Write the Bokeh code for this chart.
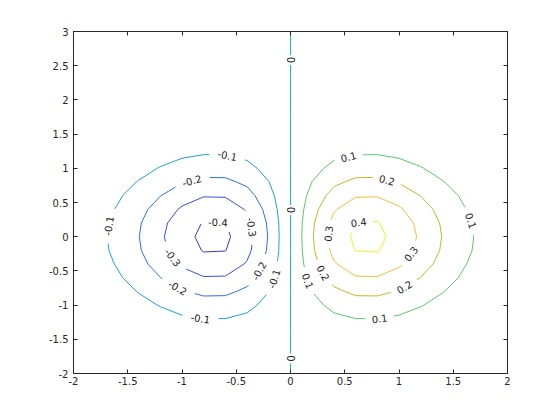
import numpy as np
import contourpy
from bokeh.plotting import figure
from bokeh.models import Range1d, LinearAxis, FixedTicker, CustomJSTickFormatter, ColumnDataSource
from bokeh.core.properties import value
from bokeh.embed import file_html
from bokeh.resources import INLINE

# ---- data -------------------------------------------------------------
# surface z = x * exp(-x^2 - y^2) sampled on the grid -2:0.2:2 x -2:0.2:3
x_grid = np.round(np.arange(-2.0, 2.0001, 0.2), 10)
y_grid = np.round(np.arange(-2.0, 3.0001, 0.2), 10)
levels = [-0.4, -0.3, -0.2, -0.1, 0.0, 0.1, 0.2, 0.3, 0.4]
x_ticks = [-2, -1.5, -1, -0.5, 0, 0.5, 1, 1.5, 2]
y_ticks = [-2, -1.5, -1, -0.5, 0, 0.5, 1, 1.5, 2, 2.5, 3]

# ---- style ------------------------------------------------------------
level_colors = ["#4431c2", "#3a4cee", "#2c6fe6", "#1aa2dc", "#10bfbf",
                "#5cc86a", "#c3b82a", "#f4bf3a", "#f5ee20"]
# approximate spots where the inline labels sit (snapped onto the lines)
label_spots = [
    (-0.1, -0.58, 1.20), (-0.1, -1.68, 0.16), (-0.1, -0.175, -0.60), (-0.1, -0.83, -1.19),
    (-0.2, -0.91, 0.83), (-0.2, -1.04, -0.75), (-0.2, -0.30, -0.49),
    (-0.3, -0.40, 0.13), (-0.3, -1.09, -0.31),
    (-0.4, -0.67, 0.17),
    (0.0, 0.0, 2.585), (0.0, 0.0, 0.39), (0.0, 0.0, -1.78),
    (0.1, 0.535, 1.17), (0.1, 1.64, 0.22), (0.1, 0.14, -0.66), (0.1, 0.82, -1.19),
    (0.2, 0.89, 0.83), (0.2, 0.30, -0.53), (0.2, 1.04, -0.71),
    (0.3, 0.36, 0.04), (0.3, 1.10, -0.24),
    (0.4, 0.63, 0.14),
]

FW, FH = 434, 342
XMIN, XMAX, YMIN, YMAX = -2.0, 2.0, -2.0, 3.0
SX = FW / (XMAX - XMIN)
SY = FH / (YMAX - YMIN)

X, Y = np.meshgrid(x_grid, y_grid)
Z = X * np.exp(-X ** 2 - Y ** 2)
gen = contourpy.contour_generator(x_grid, y_grid, Z, line_type="Separate")

CHAR_W = {"-": 3.61, ".": 3.18}


def text_w(s):
    return sum(CHAR_W.get(c, 6.36) for c in s)


def fmt(v):
    s = f"{v:g}"
    return "0" if s in ("-0", "0") else s


def to_px(pts):
    return np.column_stack([(pts[:, 0] - XMIN) * SX, (pts[:, 1] - YMIN) * SY])


def from_px(pts):
    return np.column_stack([pts[:, 0] / SX + XMIN, pts[:, 1] / SY + YMIN])


def cumlen(P):
    d = np.sqrt((np.diff(P, axis=0) ** 2).sum(axis=1))
    return np.concatenate([[0.0], np.cumsum(d)])


def at_s(P, cum, s):
    s = min(max(s, 0.0), cum[-1])
    return np.array([np.interp(s, cum, P[:, 0]), np.interp(s, cum, P[:, 1])])


def nearest(P, cum, q):
    best = (1e18, 0.0)
    for i in range(len(P) - 1):
        a, b = P[i], P[i + 1]
        ab = b - a
        L2 = float(ab @ ab)
        t = 0.0 if L2 == 0 else max(0.0, min(1.0, float((q - a) @ ab) / L2))
        pt = a + t * ab
        dd = float(((q - pt) ** 2).sum())
        if dd < best[0]:
            best = (dd, cum[i] + t * (cum[i + 1] - cum[i]))
    return best


seg_xs, seg_ys, seg_cols = [], [], []
lab_x, lab_y, lab_t, lab_a = [], [], [], []

for lev, col in zip(levels, level_colors):
    lines = [np.asarray(l, dtype=float) for l in gen.lines(lev)]
    lines = [l for l in lines if len(l) >= 2]
    pls = [to_px(l) for l in lines]
    cums = [cumlen(P) for P in pls]
    cuts = [[] for _ in pls]
    for (lv, ax, ay) in label_spots:
        if abs(lv - lev) > 1e-9 or not pls:
            continue
        q = to_px(np.array([[ax, ay]]))[0]
        cands = [(nearest(P, c, q), k) for k, (P, c) in enumerate(zip(pls, cums))]
        (dd, s0), k = min(cands, key=lambda r: r[0][0])
        P, c = pls[k], cums[k]
        L = c[-1]
        txt = fmt(lev)
        h = max(text_w(txt) - 1.5, 5.0)
        closed = np.allclose(P[0], P[-1])
        cuts[k].append((s0 - h, s0 + h))
        if closed:
            if s0 - h < 0:
                cuts[k].append((L + s0 - h, L))
            if s0 + h > L:
                cuts[k].append((0.0, s0 + h - L))
        p0 = at_s(P, c, s0)
        pa, pb = at_s(P, c, s0 - 4), at_s(P, c, s0 + 4)
        ang = np.arctan2(pb[1] - pa[1], pb[0] - pa[0])
        if ang > np.pi / 2 + 1e-6:
            ang -= np.pi
        if ang < -np.pi / 2 - 1e-6:
            ang += np.pi
        d0 = from_px(p0[None, :])[0]
        lab_x.append(d0[0]); lab_y.append(d0[1]); lab_t.append(txt); lab_a.append(float(ang))
    for P, c, cl in zip(pls, cums, cuts):
        L = c[-1]
        iv = sorted((max(0.0, a), min(L, b)) for a, b in cl)
        keep, start = [], 0.0
        for a, b in iv:
            if a > start:
                keep.append((start, a))
            start = max(start, b)
        if start < L:
            keep.append((start, L))
        for a, b in keep:
            pts = [at_s(P, c, a)] + [P[j] for j in range(len(P)) if a < c[j] < b] + [at_s(P, c, b)]
            d = from_px(np.array(pts))
            seg_xs.append(list(d[:, 0])); seg_ys.append(list(d[:, 1])); seg_cols.append(col)

# ---- figure -----------------------------------------------------------
p = figure(frame_width=FW, frame_height=FH, output_backend="svg", toolbar_location=None,
           x_range=Range1d(XMIN, XMAX), y_range=Range1d(YMIN, YMAX),
           x_axis_type=None, y_axis_type=None,
           min_border_left=73, min_border_right=45, min_border_top=31, min_border_bottom=39)
p.grid.visible = False
p.outline_line_color = "#262626"
p.background_fill_color = "white"
p.border_fill_color = "white"

p.multi_line(xs=seg_xs, ys=seg_ys, line_color=seg_cols, line_width=1)

src = ColumnDataSource(dict(x=lab_x, y=lab_y, text=lab_t, angle=lab_a))
p.text(x="x", y="y", text="text", angle="angle", source=src,
       text_align="center", text_baseline="middle",
       text_font=value("DejaVu Sans"), text_font_size=value("10px"), text_color="#1a1a1a")

lab_fmt = CustomJSTickFormatter(code="return tick.toString();")
blank_fmt = CustomJSTickFormatter(code="return '';")


def style(ax, ticks, fmt_):
    ax.ticker = FixedTicker(ticks=ticks)
    ax.formatter = fmt_
    ax.axis_line_color = "#262626"
    ax.major_tick_line_color = "#262626"
    ax.major_tick_in = 4
    ax.major_tick_out = 0
    ax.minor_tick_in = 0
    ax.minor_tick_out = 0
    ax.major_label_text_font = "DejaVu Sans"
    ax.major_label_text_font_size = "10px"
    ax.major_label_text_color = "#262626"
    ax.major_label_standoff = 5


xb = LinearAxis(); style(xb, x_ticks, lab_fmt); xb.major_label_standoff = 3
yl = LinearAxis(); style(yl, y_ticks, lab_fmt)
xt = LinearAxis(); style(xt, x_ticks, blank_fmt)
yr = LinearAxis(); style(yr, y_ticks, blank_fmt)
p.add_layout(xb, "below")
p.add_layout(yl, "left")
p.add_layout(xt, "above")
p.add_layout(yr, "right")

open("out.html", "w").write(file_html(p, INLINE))
